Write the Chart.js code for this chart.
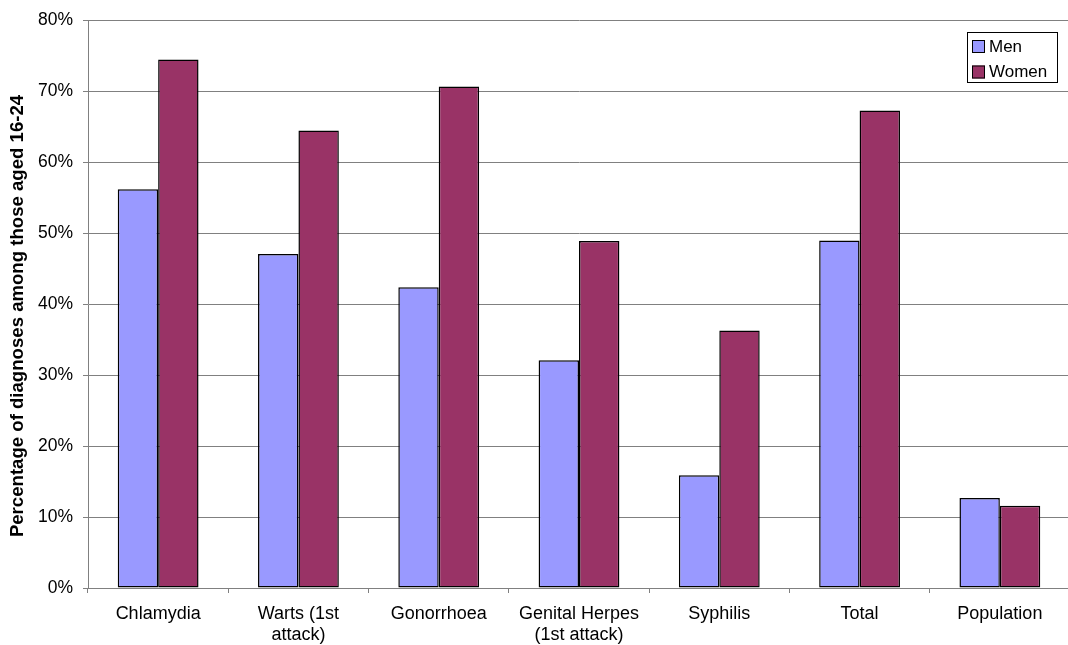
<!DOCTYPE html>
<html>
<head>
<meta charset="utf-8">
<title>Diagnoses among those aged 16-24</title>
<script src="https://cdn.jsdelivr.net/npm/chart.js@4.4.1/dist/chart.umd.min.js"></script>
<style>
  html, body { margin: 0; padding: 0; background: #ffffff; overflow: hidden; }
  #wrap { width: 1068px; height: 645px; position: relative; overflow: hidden; }
  #chart { position: absolute; left: 0; top: 0; }
</style>
</head>
<body>
<div id="wrap"><canvas id="chart" width="1080" height="645"></canvas></div>
<script>
// Categories (multi-line labels as arrays)
const categories = [
  'Chlamydia',
  ['Warts (1st', 'attack)'],
  'Gonorrhoea',
  ['Genital Herpes', '(1st attack)'],
  'Syphilis',
  'Total',
  'Population'
];

// Percentage of diagnoses among those aged 16-24
const menValues   = [56.2, 47.1, 42.4, 32.1, 15.9, 49.0, 12.7];
const womenValues = [74.5, 64.5, 70.7, 48.9, 36.3, 67.3, 11.6];

const seriesNames = ['Men', 'Women'];
const yAxisTitle = 'Percentage of diagnoses among those aged 16-24';

const FONT = "'Liberation Sans', Arial, sans-serif";
const GRID = '#808080';

// Rotated y-axis title
const yTitlePlugin = {
  id: 'yTitle',
  afterDraw(chart) {
    const ctx = chart.ctx;
    ctx.save();
    ctx.translate(18, 316);
    ctx.rotate(-Math.PI / 2);
    ctx.font = 'bold 18.6px ' + FONT;
    ctx.fillStyle = '#000000';
    ctx.textAlign = 'center';
    ctx.textBaseline = 'middle';
    ctx.fillText(yAxisTitle, 0, 0);
    ctx.restore();
  }
};

// Boxed legend in the upper right corner
const boxLegendPlugin = {
  id: 'boxLegend',
  afterDraw(chart) {
    const ctx = chart.ctx;
    const x = 967, y = 32, w = 90, h = 50;
    ctx.save();
    ctx.fillStyle = '#ffffff';
    ctx.fillRect(x, y, w, h);
    ctx.strokeStyle = '#000000';
    ctx.lineWidth = 1;
    ctx.strokeRect(x + 0.5, y + 0.5, w, h);
    ctx.font = '17px ' + FONT;
    ctx.textBaseline = 'middle';
    chart.data.datasets.forEach((ds, i) => {
      const cy = y + 14 + i * 25.5;
      ctx.fillStyle = ds.backgroundColor;
      ctx.fillRect(x + 5, cy - 6, 13, 13);
      ctx.strokeStyle = '#000000';
      ctx.strokeRect(x + 5.5, cy - 5.5, 12, 12);
      ctx.fillStyle = '#000000';
      ctx.textAlign = 'left';
      ctx.fillText(ds.label, x + 22, cy + 1);
    });
    ctx.restore();
  }
};

new Chart(document.getElementById('chart'), {
  type: 'bar',
  data: {
    labels: categories,
    datasets: [
      {
        label: seriesNames[0],
        data: menValues,
        backgroundColor: '#9999FF',
        borderColor: '#000000',
        borderWidth: 1.5,
        borderSkipped: false
      },
      {
        label: seriesNames[1],
        data: womenValues,
        backgroundColor: '#993366',
        borderColor: '#000000',
        borderWidth: 1.5,
        borderSkipped: false
      }
    ]
  },
  options: {
    responsive: false,
    animation: false,
    categoryPercentage: 0.576,
    barPercentage: 1.0,
    layout: { padding: { top: 20, right: 10, left: 0, bottom: 0 } },
    plugins: {
      legend: { display: false },
      tooltip: { enabled: false }
    },
    scales: {
      x: {
        offset: true,
        grid: {
          display: true,
          offset: true,
          drawOnChartArea: false,
          drawTicks: true,
          tickLength: 5,
          color: GRID
        },
        border: { display: true, color: GRID, width: 1 },
        ticks: {
          color: '#000000',
          font: { family: FONT, size: 18 },
          padding: 10,
          maxRotation: 0,
          autoSkip: false
        },
        afterFit(scale) { scale.height = 57; }
      },
      y: {
        min: 0,
        max: 80,
        grid: {
          color: GRID,
          lineWidth: 1,
          drawTicks: true,
          tickLength: 5
        },
        border: { display: true, color: GRID, width: 1 },
        ticks: {
          stepSize: 10,
          color: '#000000',
          font: { family: FONT, size: 17.5 },
          padding: 10,
          callback: (v) => v + '%'
        },
        afterFit(scale) { scale.width = 88; }
      }
    }
  },
  plugins: [yTitlePlugin, boxLegendPlugin]
});
</script>
</body>
</html>
